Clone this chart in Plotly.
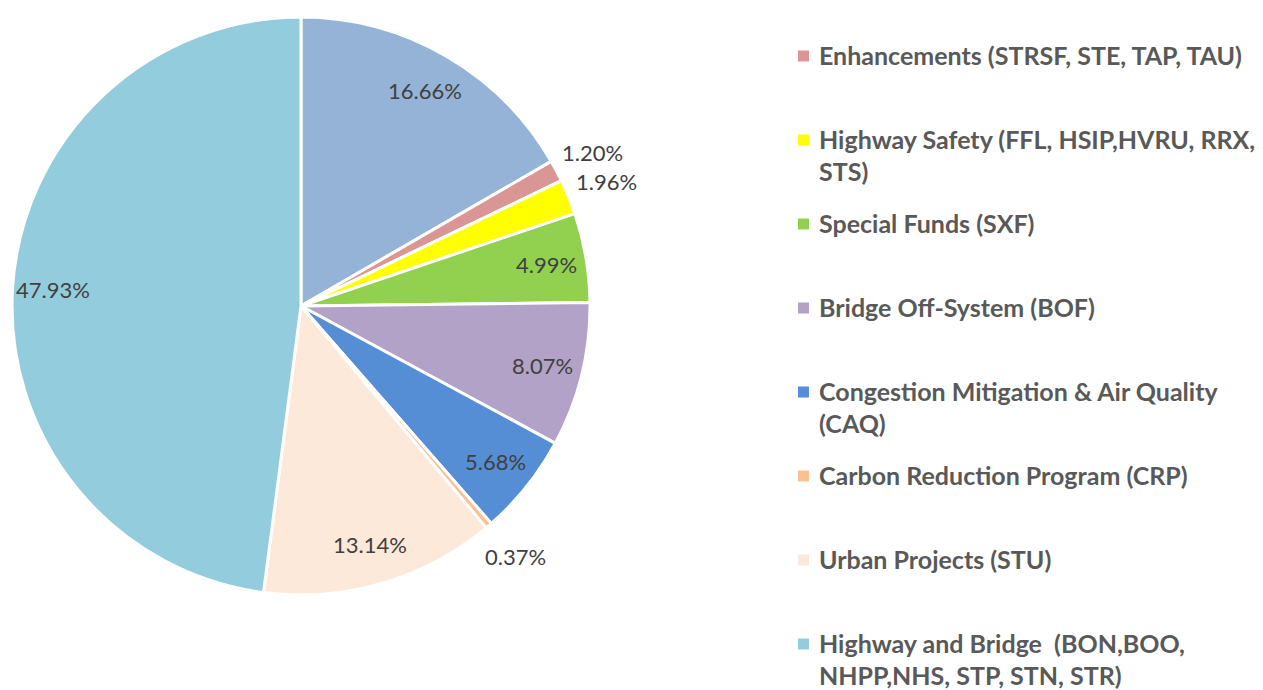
import math
import plotly.graph_objects as go

# the page body has an 8px margin, so the figure is drawn at page offset (8, 8)
OFF = 8
W, H = 1255, 682

categories = [
    "Statewide / Other",
    "Enhancements (STRSF, STE, TAP, TAU)",
    "Highway Safety (FFL, HSIP,HVRU, RRX, STS)",
    "Special Funds (SXF)",
    "Bridge Off-System (BOF)",
    "Congestion Mitigation & Air Quality (CAQ)",
    "Carbon Reduction Program (CRP)",
    "Urban Projects (STU)",
    "Highway and Bridge  (BON,BOO, NHPP,NHS, STP, STN, STR)",
]
shares = [16.66, 1.20, 1.96, 4.99, 8.07, 5.68, 0.37, 13.14, 47.93]
colors = ["#95B3D7", "#D99694", "#FFFF00", "#92D050", "#B3A2C7",
          "#558ED5", "#FAC090", "#FDE9D9", "#93CDDD"]
label_outside = [False, True, True, False, False, False, True, False, False]

# legend entries (first slice is not listed in the legend)
legend_lines = [
    ["Enhancements (STRSF, STE, TAP, TAU)"],
    ["Highway Safety (FFL, HSIP,HVRU, RRX,", "STS)"],
    ["Special Funds (SXF)"],
    ["Bridge Off-System (BOF)"],
    ["Congestion Mitigation & Air Quality", "(CAQ)"],
    ["Carbon Reduction Program (CRP)"],
    ["Urban Projects (STU)"],
    ["Highway and Bridge  (BON,BOO,", "NHPP,NHS, STP, STN, STR)"],
]
legend_colors = colors[1:]


def px(x):
    return (x - OFF) / W


def py(y):
    return 1 - (y - OFF) / H


# pie placement (page pixels)
cx, cy, R = 301, 306, 289

fig = go.Figure()
fig.add_trace(go.Pie(
    labels=categories,
    values=shares,
    sort=False,
    direction="clockwise",
    rotation=0,
    marker=dict(colors=colors, line=dict(color="white", width=3)),
    textinfo="none",
    showlegend=False,
    hoverinfo="label+value",
    domain=dict(x=[px(cx - R), px(cx + R)], y=[py(cy + R), py(cy - R)]),
))

# data labels, placed at each slice's mid angle (Excel-like placement)
total = sum(shares)
cum = 0.0
for v, out in zip(shares, label_outside):
    mid = (cum + v / 2) / total * 2 * math.pi
    cum += v
    r = 1.14 * R if out else 0.86 * R
    lx = cx + r * math.sin(mid)
    ly = cy - r * math.cos(mid)
    fig.add_annotation(xref="paper", yref="paper", x=px(lx), y=py(ly),
                       xanchor="center", yanchor="middle", showarrow=False,
                       text=f"{v:.2f}%",
                       font=dict(family="Lato", size=22, color="#404040"))

slot = 84.0
y0 = 55
line_gap = 32
for i, (lines, col) in enumerate(zip(legend_lines, legend_colors)):
    yc = y0 + i * slot
    fig.add_shape(type="rect", xref="paper", yref="paper",
                  x0=px(798), x1=px(809), y0=py(yc + 6.5), y1=py(yc - 4.5),
                  fillcolor=col, line=dict(width=0))
    for j, t in enumerate(lines):
        fig.add_annotation(xref="paper", yref="paper", x=px(817),
                           y=py(yc + j * line_gap),
                           xanchor="left", yanchor="middle", showarrow=False,
                           text=t, font=dict(family="Lato", size=25, color="#595959",
                                             weight="bold"))

fig.update_layout(
    width=W, height=H,
    margin=dict(l=0, r=0, t=0, b=0),
    paper_bgcolor="white",
    plot_bgcolor="white",
)
fig.write_html("out.html")
